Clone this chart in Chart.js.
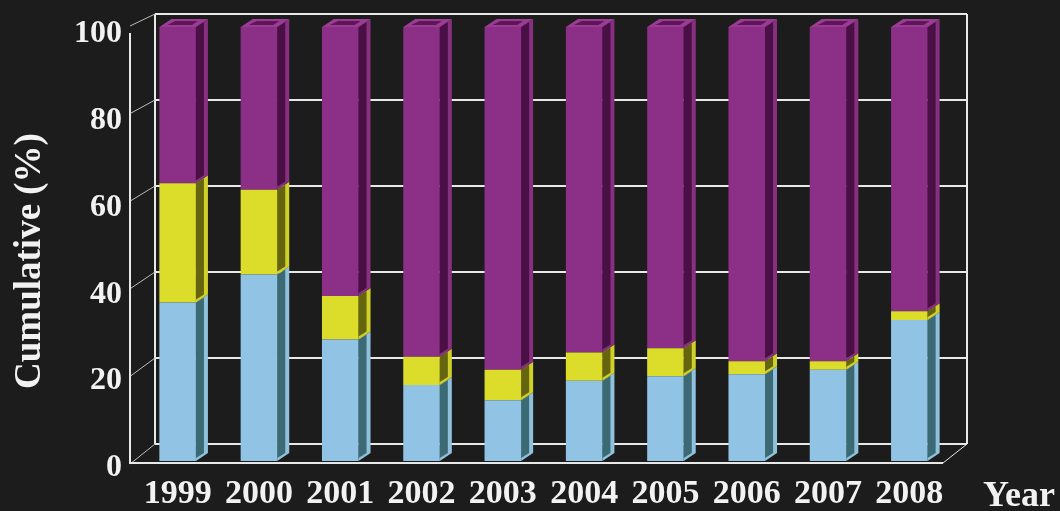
<!DOCTYPE html>
<html>
<head>
<meta charset="utf-8">
<script src="https://cdn.jsdelivr.net/npm/chart.js@4.4.1/dist/chart.umd.min.js"></script>
<style>
  html, body { margin: 0; padding: 0; background: #1c1c1c; }
  canvas { display: block; }
</style>
</head>
<body>
<canvas id="cumchart" width="1060" height="511"></canvas>
<script>
// data (percent, stacked to 100)
const years = ["1999", "2000", "2001", "2002", "2003", "2004", "2005", "2006", "2007", "2008"];
const blueVals = [36.5, 43, 28, 17.5, 14, 18.5, 19.5, 20, 21, 32.5];
const yellowVals = [27.5, 19.5, 10, 6.5, 7, 6.5, 6.5, 3, 2, 2];
const purpleVals = [36, 37.5, 62, 76, 79, 75, 74, 77, 77, 65.5];
const yTicks = [0, 20, 40, 60, 80, 100];

const textColor = "#f2f2f2";
const serif = "'Liberation Serif', 'DejaVu Serif', serif";

// front, side (mid), side (dark groove), top colours for each series
const shades = [
  { front: "#90c3e4", side: "#8fc0dc", groove: "#3c6a74" },
  { front: "#dcdc2a", side: "#cfd02a", groove: "#66650f" },
  { front: "#8c2f86", side: "#86307f", groove: "#4a0f45", top: "#9b3b93", topIn: "#5e1658" }
];

// draws the back wall, floor and front axis of the 3D frame
const frame3d = {
  id: "frame3d",
  beforeDraw(chart) {
    const ctx = chart.ctx;
    ctx.save();
    ctx.fillStyle = "#1c1c1c";
    ctx.fillRect(0, 0, chart.width, chart.height);
    ctx.restore();
  },
  beforeDatasetsDraw(chart) {
    const ctx = chart.ctx;
    const area = chart.chartArea;
    const y = chart.scales.y;
    const yb = chart.scales.yBack;
    const frontX = area.left - 7;
    const backL = area.left + 18;
    const backR = area.right + 17;
    const floorR = area.right - 7;
    ctx.save();
    ctx.strokeStyle = "#e8e8e8";
    ctx.lineWidth = 2;
    // back wall grid lines
    yTicks.forEach(function(v) {
      ctx.beginPath();
      ctx.moveTo(backL, yb.getPixelForValue(v));
      ctx.lineTo(backR, yb.getPixelForValue(v));
      ctx.stroke();
    });
    ctx.beginPath();
    ctx.moveTo(backL, yb.getPixelForValue(0));
    ctx.lineTo(backL, yb.getPixelForValue(100));
    ctx.moveTo(backR, yb.getPixelForValue(0));
    ctx.lineTo(backR, yb.getPixelForValue(100));
    ctx.stroke();
    // left wall diagonals
    ctx.lineWidth = 1;
    ctx.strokeStyle = "#bdbdbd";
    yTicks.forEach(function(v) {
      ctx.beginPath();
      ctx.moveTo(frontX, y.getPixelForValue(v) + 3 - v * 0.04);
      ctx.lineTo(backL, yb.getPixelForValue(v));
      ctx.stroke();
    });
    // floor
    ctx.lineWidth = 2;
    ctx.strokeStyle = "#e8e8e8";
    ctx.beginPath();
    ctx.moveTo(frontX, y.getPixelForValue(100) + 6);
    ctx.lineTo(frontX, y.getPixelForValue(0) + 2);
    ctx.lineTo(floorR, y.getPixelForValue(0) + 2);
    ctx.stroke();
    ctx.lineWidth = 1;
    ctx.beginPath();
    ctx.moveTo(floorR, y.getPixelForValue(0) + 2);
    ctx.lineTo(backR, yb.getPixelForValue(0));
    ctx.stroke();
    ctx.restore();
  },
  afterDatasetsDraw(chart) {
    const ctx = chart.ctx;
    const dx = 12, dy = 8;
    const last = chart.data.datasets.length - 1;
    ctx.save();
    chart.data.datasets.forEach(function(ds, i) {
      const meta = chart.getDatasetMeta(i);
      const c = shades[i];
      meta.data.forEach(function(bar) {
        const p = bar.getProps(["x", "y", "base", "width"], true);
        const l = p.x - p.width / 2;
        const r = p.x + p.width / 2;
        const top = p.y;
        const bot = p.base;
        // side face: light rim with a dark groove
        ctx.fillStyle = c.side;
        ctx.beginPath();
        ctx.moveTo(r, bot);
        ctx.lineTo(r, top);
        ctx.lineTo(r + dx, top - dy);
        ctx.lineTo(r + dx, bot - dy);
        ctx.closePath();
        ctx.fill();
        ctx.fillStyle = c.groove;
        ctx.beginPath();
        ctx.moveTo(r, bot - 3);
        ctx.lineTo(r, top);
        ctx.lineTo(r + dx - 4, top - dy + 3);
        ctx.lineTo(r + dx - 4, bot - dy);
        ctx.closePath();
        ctx.fill();
        // top face on the last stack
        if (i === last) {
          ctx.fillStyle = c.top;
          ctx.beginPath();
          ctx.moveTo(l, top);
          ctx.lineTo(l + dx, top - dy);
          ctx.lineTo(r + dx, top - dy);
          ctx.lineTo(r, top);
          ctx.closePath();
          ctx.fill();
          ctx.fillStyle = c.topIn;
          ctx.beginPath();
          ctx.moveTo(l + 8, top - 2);
          ctx.lineTo(l + dx + 4, top - dy + 2);
          ctx.lineTo(r + 2, top - dy + 2);
          ctx.lineTo(r - 4, top - 2);
          ctx.closePath();
          ctx.fill();
        }
      });
    });
    ctx.restore();
  },
  afterDraw(chart) {
    const ctx = chart.ctx;
    const area = chart.chartArea;
    ctx.save();
    ctx.fillStyle = textColor;
    ctx.font = "bold 37px " + serif;
    ctx.textAlign = "center";
    ctx.textBaseline = "middle";
    ctx.translate(30, 261);
    ctx.rotate(-Math.PI / 2);
    ctx.fillText("Cumulative (%)", 0, 0);
    ctx.restore();
    ctx.save();
    ctx.fillStyle = textColor;
    ctx.font = "bold 36px " + serif;
    ctx.textAlign = "center";
    ctx.textBaseline = "middle";
    ctx.fillText("Year", area.right + 69, area.bottom + 36);
    ctx.restore();
  }
};

const chartdata = {
  labels: years,
  datasets: [
    { label: "blue", data: blueVals, backgroundColor: shades[0].front },
    { label: "yellow", data: yellowVals, backgroundColor: shades[1].front },
    { label: "purple", data: purpleVals, backgroundColor: shades[2].front }
  ]
};

const config = {
  type: "bar",
  data: chartdata,
  plugins: [frame3d],
  options: {
    responsive: false,
    animation: false,
    layout: { padding: { top: 27, right: 110, left: 0, bottom: 0 } },
    datasets: {
      bar: { barPercentage: 0.9, categoryPercentage: 0.5, borderWidth: 0 }
    },
    plugins: {
      legend: { display: false },
      tooltip: { enabled: false }
    },
    scales: {
      x: {
        stacked: true,
        grid: { display: false, drawTicks: false },
        border: { display: false },
        ticks: {
          color: textColor,
          padding: 13,
          maxRotation: 0,
          font: { family: serif, size: 34, weight: "bold" }
        },
        afterFit: function(axis) {
          axis.height = 50;
          axis.paddingLeft = 0;
          axis.paddingRight = 0;
        }
      },
      y: {
        stacked: true,
        min: 0,
        max: 100,
        grid: { display: false, drawTicks: false },
        border: { display: false },
        ticks: {
          color: textColor,
          padding: 15,
          labelOffset: 7,
          font: { family: serif, size: 32, weight: "bold" }
        },
        afterBuildTicks: function(axis) {
          axis.ticks = yTicks.map(function(v) { return { value: v }; });
        },
        afterFit: function(axis) {
          axis.width = 137;
          axis.paddingTop = 0;
          axis.paddingBottom = 0;
        }
      },
      // hidden scale for the back wall of the 3D frame
      yBack: {
        display: false,
        position: "right",
        min: -3.95,
        max: 96.98
      }
    }
  }
};

const cumchart = new Chart(document.getElementById("cumchart"), config);
</script>
</body>
</html>
